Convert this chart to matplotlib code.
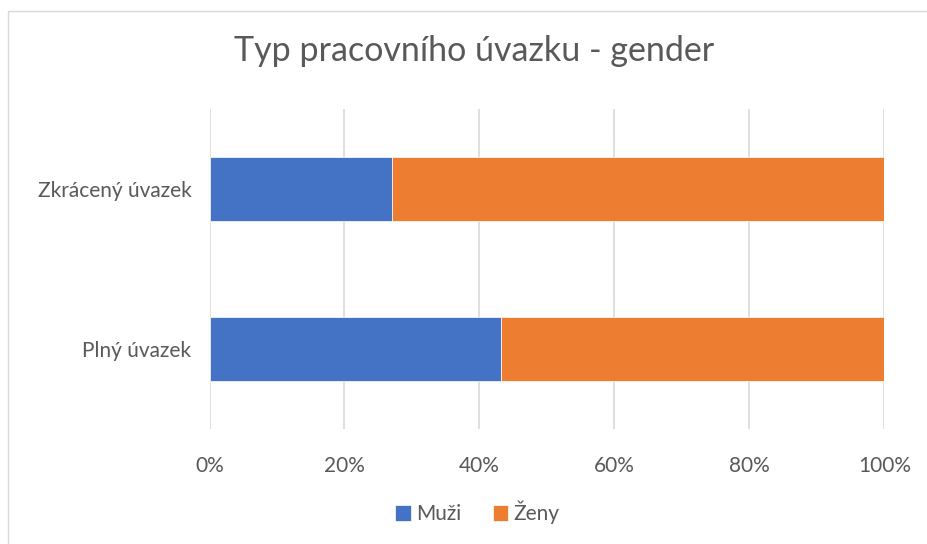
"""
Typ pracovniho uvazku - gender, 100% stacked bars
"""
import matplotlib.pyplot as plt
from matplotlib.ticker import PercentFormatter
from matplotlib.patches import Rectangle

plt.rcParams['font.family'] = ['Lato', 'DejaVu Sans']

categories = ["Plný úvazek", "Zkrácený úvazek"]
muzi = [43.2, 27.1]
zeny = [56.8, 72.9]
series = ["Muži", "Ženy"]
colors = ["#4472C4", "#ED7D31"]
text_color = "#595959"

fig = plt.figure(figsize=(9.27, 5.44), dpi=100)
ax = fig.add_axes([0.226, 0.211, 0.728, 0.589])

# outer chart border
fig.patches.append(Rectangle((8 / 927, -0.01), 1.0, 1 - 11 / 544 + 0.01,
                             transform=fig.transFigure, fill=False,
                             edgecolor="#d9d9d9", linewidth=1))

ax.barh(categories, muzi, height=0.4, color=colors[0], label=series[0],
        edgecolor="white", linewidth=0.5, zorder=3)
ax.barh(categories, zeny, left=muzi, height=0.4, color=colors[1],
        label=series[1], edgecolor="white", linewidth=0.5, zorder=3)

ax.set_xlim(0, 100)
ax.set_ylim(-0.5, 1.5)
ax.set_xticks(range(0, 101, 20))
ax.xaxis.set_major_formatter(PercentFormatter(decimals=0))
ax.grid(axis="x", color="#d9d9d9", linewidth=1.2, zorder=0)
for s in ax.spines.values():
    s.set_visible(False)
ax.tick_params(axis="both", length=0, labelsize=15, labelcolor=text_color)
ax.tick_params(axis="x", pad=19)
ax.tick_params(axis="y", pad=13)

fig.suptitle("Typ pracovního úvazku - gender", x=0.511, y=0.935,
             fontsize=24.5, color=text_color)
fig.legend(loc="center", bbox_to_anchor=(0.515, 0.058), ncol=2, frameon=False,
           fontsize=15, labelcolor=text_color, handlelength=0.75,
           handleheight=0.75, handletextpad=0.25, columnspacing=1.5)

fig.savefig("out.png", dpi=100)
